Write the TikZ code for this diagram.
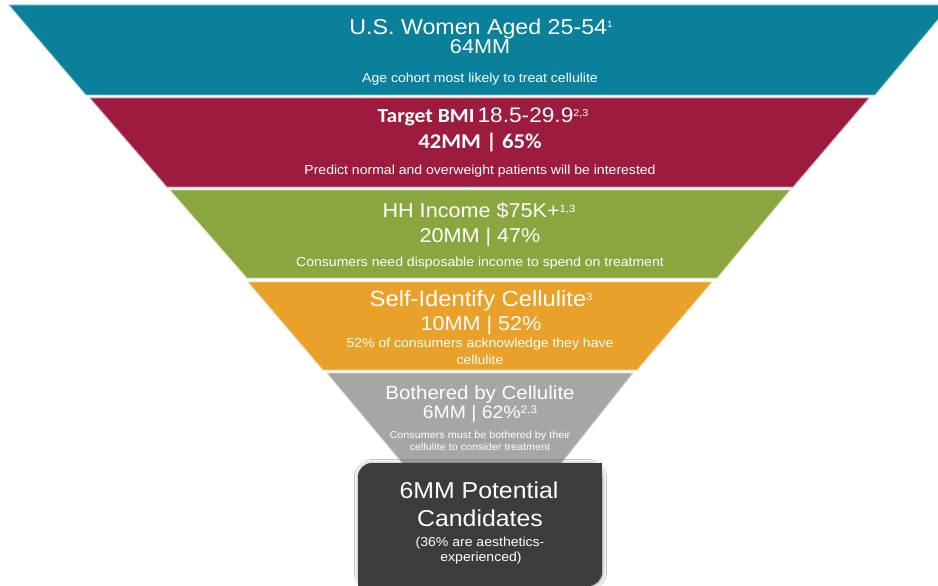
\documentclass[tikz,border=0pt]{standalone}
\usepackage{fontspec}
\setmainfont{Liberation Sans}[FakeStretch=1.08]
\newfontfamily\calibri{Carlito}[FakeStretch=1.08]
\usetikzlibrary{shadows.blur}

\definecolor{funnelteal}{HTML}{0A809B}
\definecolor{funnelred}{HTML}{9E1B40}
\definecolor{funnelgreen}{HTML}{8BA53F}
\definecolor{funnelorange}{HTML}{E9A12A}
\definecolor{funnelgray}{HTML}{A6A6A6}
\definecolor{funneldark}{HTML}{3A3D3E}

% raised reference numbers after a heading: [size]{raise in pt}{numbers}
\newcommand\refmark[3][9]{\raisebox{#2pt}{\fontsize{#1}{#1}\selectfont #3}}
\newcommand\fs[1]{\fontsize{#1}{#1}\selectfont}

\begin{document}
\begin{tikzpicture}[x=1pt,y=-1pt,
  txt/.style={text=white, anchor=base, inner sep=0pt},
  band/.style={fill=#1, draw=#1!45!white, line width=0.8pt}]
\clip (0,0) rectangle (938,586);
\fill[white] (0,0) rectangle (938,586);

% funnel stages
\path[band=funnelteal]   (9,5) -- (950,5) -- (875,95) -- (86,95) -- cycle;
\path[band=funnelred]    (90,98) -- (869,98) -- (793,187) -- (167,187) -- cycle;
\path[band=funnelgreen]  (170,190) -- (790,190) -- (717,278) -- (247,278) -- cycle;
\path[band=funnelorange] (248,282) -- (712,282) -- (637,370) -- (323,370) -- cycle;
\path[band=funnelgray]   (327,373) -- (633,373) -- (556,470) -- (408,470) -- cycle;

% result box: rounded top-left and bottom-right, square elsewhere
\path[fill=funneldark, rounded corners=14pt,
      blur shadow={shadow xshift=0.5pt, shadow yshift=-0.5pt, shadow blur radius=4pt, shadow opacity=45}]
  (358,463) rectangle (602,586);
\fill[funneldark] (580,463) rectangle (602,485);
\fill[funneldark] (358,564) rectangle (380,586);

% stage 1
\node[txt] (t1) at (481,35) {\fs{21.5}U.S. Women Aged 25-54\refmark[9]{7}{1}};
\node[txt] (t2) at (480,54) {\fs{20}64MM};
\node[txt] (t3) at (480,83) {\fs{13}Age cohort most likely to treat cellulite};

% stage 2
\node[txt] (r1) at (483,123) {{\calibri\bfseries\fs{20}Target BMI} \fs{21}18.5-29.9\refmark[10]{6}{2,3}};
\node[txt] (r2) at (480,148) {\calibri\bfseries\fs{21}42MM | 65\%};
\node[txt] (r3) at (480,175) {\fs{13}Predict normal and overweight patients will be interested};

% stage 3
\node[txt] (g1) at (479,217) {\fs{20}HH Income \$75K+\refmark[10.5]{5}{1,3}};
\node[txt] (g2) at (480,242) {\fs{20}20MM | 47\%};
\node[txt] (g3) at (480,266) {\fs{13}Consumers need disposable income to spend on treatment};

% stage 4
\node[txt] (o1) at (481,306) {\fs{22}Self-Identify Cellulite\refmark[10]{6}{3}};
\node[txt] (o2) at (481,330) {\fs{20}10MM | 52\%};
\node[txt] (o3) at (480,347) {\fs{13}52\% of consumers acknowledge they have};
\node[txt] (o4) at (480,364) {\fs{13}cellulite};

% stage 5
\node[txt] (y1) at (480,399) {\fs{19}Bothered by Cellulite};
\node[txt] (y2) at (480,418) {\fs{18}6MM | 62\%\refmark[11]{5}{2,3}};
\node[txt] (y3) at (480,438) {\fs{10}Consumers must be bothered by their};
\node[txt] (y4) at (480,450) {\fs{10}cellulite to consider treatment};

% result
\node[txt] (d1) at (479,498) {\fs{23}6MM Potential};
\node[txt] (d2) at (480,526) {\fs{23}Candidates};
\node[txt] (d3) at (480,546) {\fs{13}(36\% are aesthetics-};
\node[txt] (d4) at (481,561) {\fs{13}experienced)};
\end{tikzpicture}
\end{document}
